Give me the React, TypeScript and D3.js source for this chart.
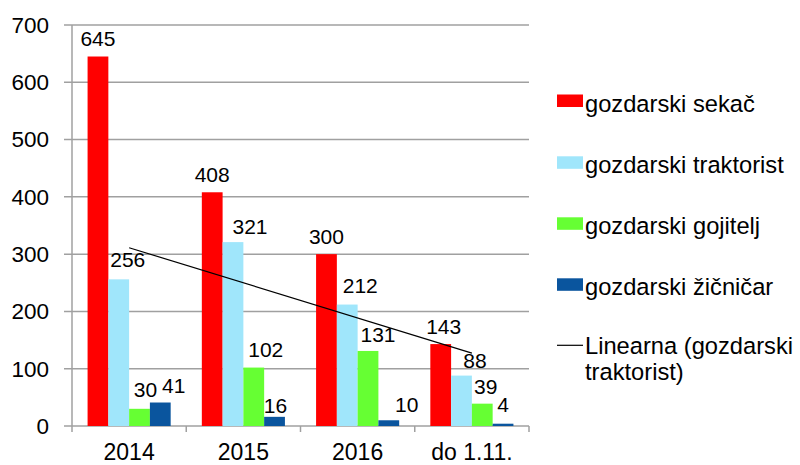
import { useEffect, useRef } from 'react';
import * as d3 from 'd3';

const categories = ['2014', '2015', '2016', 'do 1.11.'];
const seriesNames = ['gozdarski sekač', 'gozdarski traktorist', 'gozdarski gojitelj', 'gozdarski žičničar'];
const sekac = [645, 408, 300, 143];
const traktorist = [256, 321, 212, 88];
const gojitelj = [30, 102, 131, 39];
const zicnicar = [41, 16, 10, 4];
const yTicks = [0, 100, 200, 300, 400, 500, 600, 700];
const trendName = ['Linearna (gozdarski', 'traktorist)'];

const colors = ['#ff0000', '#a0e6fb', '#66ff33', '#0a559e'];

// label nudges (dx, gap above bar) as placed in the original
const labelDx = [
  [0, 0, 0, 3],
  [9, 17, 13, 13.5],
  [6, 12, 10, 3.5],
  [13.5, 1, 18, 0],
];
const labelGap = [
  [11, 10.5, 10.5, 10],
  [12.5, 8.5, 12, 7.5],
  [12, 10.5, 9, 10],
  [9.5, 4, 8.5, 11.5],
];

function App() {
  const svgRef = useRef<SVGSVGElement>(null);

  useEffect(() => {
    const values = [sekac, traktorist, gojitelj, zicnicar];
    const font = '"Liberation Sans", Arial, sans-serif';
    const gridColor = '#a0a0a0';

    const svg = d3.select(svgRef.current);
    svg.selectAll('*').remove();

    const x0 = d3.scaleBand().domain(categories).range([72, 529]).padding(0);
    const x1 = d3.scaleBand()
      .domain(seriesNames)
      .range([0, x0.bandwidth()])
      .paddingInner(0)
      .paddingOuter(0.75);
    const y = d3.scaleLinear().domain([0, 700]).range([426, 25]);

    // gridlines
    svg.append('g')
      .selectAll('line')
      .data(yTicks)
      .join('line')
      .attr('x1', 64)
      .attr('x2', 529)
      .attr('y1', d => y(d))
      .attr('y2', d => y(d))
      .attr('stroke', gridColor)
      .attr('stroke-width', 1.5);

    // y axis line
    svg.append('line')
      .attr('x1', 72).attr('x2', 72)
      .attr('y1', y(700)).attr('y2', 432)
      .attr('stroke', gridColor)
      .attr('stroke-width', 1.5);

    // category ticks
    svg.append('g')
      .selectAll('line')
      .data(categories)
      .join('line')
      .attr('x1', d => (x0(d) as number) + x0.bandwidth())
      .attr('x2', d => (x0(d) as number) + x0.bandwidth())
      .attr('y1', y(0))
      .attr('y2', 432)
      .attr('stroke', gridColor)
      .attr('stroke-width', 1.5);

    // y tick labels
    svg.append('g')
      .selectAll('text')
      .data(yTicks)
      .join('text')
      .attr('x', 49)
      .attr('y', d => y(d) + 7.8)
      .attr('text-anchor', 'end')
      .style('font-family', font)
      .style('font-size', '22.5px')
      .text(d => d);

    // category labels
    svg.append('g')
      .selectAll('text')
      .data(categories)
      .join('text')
      .attr('x', d => (x0(d) as number) + x0.bandwidth() / 2)
      .attr('y', 460)
      .attr('text-anchor', 'middle')
      .style('font-family', font)
      .style('font-size', '23px')
      .text(d => d);

    // bars
    values.forEach((vals, s) => {
      const g = svg.append('g');
      g.selectAll('rect')
        .data(vals)
        .join('rect')
        .attr('x', (d, i) => (x0(categories[i]) as number) + (x1(seriesNames[s]) as number))
        .attr('y', d => y(d))
        .attr('width', x1.bandwidth())
        .attr('height', d => y(0) - y(d))
        .attr('fill', colors[s]);

      g.selectAll('text')
        .data(vals)
        .join('text')
        .attr('x', (d, i) => (x0(categories[i]) as number) + (x1(seriesNames[s]) as number) + x1.bandwidth() / 2 + labelDx[s][i])
        .attr('y', (d, i) => y(d) - labelGap[s][i])
        .attr('text-anchor', 'middle')
        .style('font-family', font)
        .style('font-size', '21px')
        .text(d => d);
    });

    // linear trendline for traktorist
    const xs = traktorist.map((d, i) => i + 1);
    const mx = d3.mean(xs) as number;
    const my = d3.mean(traktorist) as number;
    const slope = d3.sum(xs, (xv, i) => (xv - mx) * (traktorist[i] - my)) / d3.sum(xs, xv => (xv - mx) ** 2);
    const trend = (xv: number) => my + slope * (xv - mx);
    const cx = (i: number) => (x0(categories[i]) as number) + x0.bandwidth() / 2;
    svg.append('line')
      .attr('x1', cx(0))
      .attr('y1', y(trend(1)))
      .attr('x2', cx(categories.length - 1))
      .attr('y2', y(trend(categories.length)))
      .attr('stroke', 'black')
      .attr('stroke-width', 1.2);

    // legend
    const rowY = [100.5, 162.3, 223.3, 284.3, 345.3];
    const legend = svg.append('g');
    seriesNames.forEach((name, i) => {
      legend.append('rect')
        .attr('x', 557).attr('y', rowY[i] - 6)
        .attr('width', 26).attr('height', 12.5)
        .attr('fill', colors[i]);
      legend.append('text')
        .attr('x', 585).attr('y', rowY[i] + 11)
        .style('font-family', font)
        .style('font-size', '23.7px')
        .text(name);
    });
    legend.append('line')
      .attr('x1', 557).attr('x2', 583)
      .attr('y1', rowY[4]).attr('y2', rowY[4])
      .attr('stroke', 'black')
      .attr('stroke-width', 1.2);
    trendName.forEach((line, j) => {
      legend.append('text')
        .attr('x', 585).attr('y', rowY[4] + 9 + j * 26)
        .style('font-family', font)
        .style('font-size', '23.7px')
        .text(line);
    });
  }, []);

  return (
    <svg
      ref={svgRef}
      width={800}
      height={465}
      style={{ position: 'absolute', left: 0, top: 0, background: 'white' }}
    />
  );
}

export default App;
